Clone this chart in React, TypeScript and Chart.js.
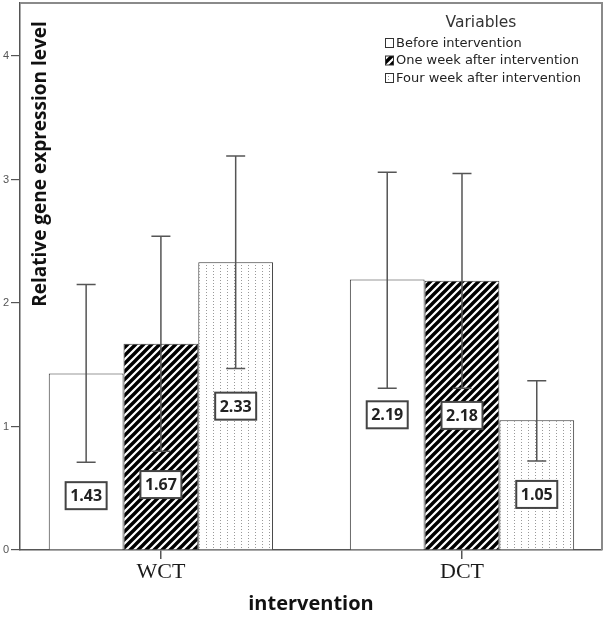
import React, { useEffect, useRef } from "react";
import { Chart, registerables } from "chart.js";

Chart.register(...registerables);

const categories = ["WCT", "DCT"];
const seriesNames = ["Before intervention", "One week after intervention", "Four week after intervention"];
const beforeVals = [1.43, 2.19];
const oneWeekVals = [1.67, 2.18];
const fourWeekVals = [2.33, 1.05];
const beforeLow = [0.71, 1.31];
const beforeHigh = [2.15, 3.06];
const oneWeekLow = [0.8, 1.31];
const oneWeekHigh = [2.54, 3.05];
const fourWeekLow = [1.47, 0.72];
const fourWeekHigh = [3.19, 1.37];
const yTicks = [0, 1, 2, 3, 4];

const seriesVals = [beforeVals, oneWeekVals, fourWeekVals];
const seriesLow = [beforeLow, oneWeekLow, fourWeekLow];
const seriesHigh = [beforeHigh, oneWeekHigh, fourWeekHigh];

function makeHatch(): CanvasPattern | string {
  const c = document.createElement("canvas");
  const s = 8;
  c.width = s;
  c.height = s;
  const g = c.getContext("2d");
  if (!g) return "#000";
  g.fillStyle = "#fff";
  g.fillRect(0, 0, s, s);
  g.strokeStyle = "#000";
  g.lineWidth = 3.4;
  g.beginPath();
  g.moveTo(0, s);
  g.lineTo(s, 0);
  g.moveTo(-2, 2);
  g.lineTo(2, -2);
  g.moveTo(s - 2, s + 2);
  g.lineTo(s + 2, s - 2);
  g.stroke();
  return g.createPattern(c, "repeat") || "#000";
}

function makeDots(): CanvasPattern | string {
  const c = document.createElement("canvas");
  c.width = 7;
  c.height = 3;
  const g = c.getContext("2d");
  if (!g) return "#fff";
  g.fillStyle = "#fff";
  g.fillRect(0, 0, 7, 3);
  g.fillStyle = "#999";
  g.fillRect(3, 1, 1, 1);
  return g.createPattern(c, "repeat") || "#fff";
}

export default function App() {
  const ref = useRef<HTMLCanvasElement | null>(null);

  useEffect(() => {
    if (!ref.current) return;
    const hatch = makeHatch();
    const dots = makeDots();
    const fills = ["#ffffff", hatch, dots];

    const framePlugin = {
      id: "frame",
      beforeDatasetsDraw(chart: any) {
        const { ctx, chartArea } = chart;
        ctx.save();
        ctx.strokeStyle = "#8a8a8a";
        ctx.lineWidth = 2;
        ctx.beginPath();
        ctx.moveTo(chartArea.left, chartArea.top);
        ctx.lineTo(chartArea.right, chartArea.top);
        ctx.lineTo(chartArea.right, chartArea.bottom);
        ctx.stroke();
        ctx.restore();
      },
    };

    const errorPlugin = {
      id: "errs",
      afterDatasetsDraw(chart: any) {
        const { ctx } = chart;
        const ys = chart.scales.y;
        ctx.save();
        ctx.strokeStyle = "#555";
        ctx.lineWidth = 1.5;
        chart.data.datasets.forEach((_d: any, i: number) => {
          const meta = chart.getDatasetMeta(i);
          meta.data.forEach((el: any, j: number) => {
            const x = el.x;
            const top = ys.getPixelForValue(seriesHigh[i][j]);
            const bot = ys.getPixelForValue(seriesLow[i][j]);
            ctx.beginPath();
            ctx.moveTo(x, top);
            ctx.lineTo(x, bot);
            ctx.moveTo(x - 9.5, top);
            ctx.lineTo(x + 9.5, top);
            ctx.moveTo(x - 9.5, bot);
            ctx.lineTo(x + 9.5, bot);
            ctx.stroke();
          });
        });
        ctx.font = "bold 16px 'Open Sans', 'Liberation Sans', sans-serif";
        ctx.textAlign = "center";
        ctx.textBaseline = "middle";
        chart.data.datasets.forEach((_d: any, i: number) => {
          const meta = chart.getDatasetMeta(i);
          meta.data.forEach((el: any, j: number) => {
            const v = seriesVals[i][j];
            const low = seriesLow[i][j];
            let mid = v / 2;
            if (Math.abs(mid - low) < 0.2) mid = low - 0.27;
            const y = ys.getPixelForValue(mid);
            const txt = v.toFixed(2);
            const w = 41;
            const h = 27;
            ctx.fillStyle = "#fff";
            ctx.fillRect(el.x - w / 2, y - h / 2, w, h);
            ctx.strokeStyle = "#444";
            ctx.lineWidth = 2;
            ctx.strokeRect(el.x - w / 2, y - h / 2, w, h);
            ctx.fillStyle = "#222";
            ctx.fillText(txt, el.x, y + 1);
          });
        });
        ctx.restore();
      },
      afterDraw(chart: any) {
        const { ctx, chartArea } = chart;
        ctx.save();
        ctx.translate(chartArea.left + 21, 164);
        ctx.rotate(-Math.PI / 2);
        ctx.font = "bold 19px 'Open Sans', 'Liberation Sans', sans-serif";
        ctx.fillStyle = "#111";
        ctx.textAlign = "center";
        ctx.textBaseline = "middle";
        ctx.fillText("Relative gene expression level", 0, 0);
        ctx.restore();

        ctx.save();
        ctx.fillStyle = "#333";
        ctx.font = "15.5px 'DejaVu Sans', sans-serif";
        ctx.textAlign = "center";
        ctx.textBaseline = "middle";
        ctx.fillText("Variables", 481, 23);
        ctx.font = "13px 'DejaVu Sans', sans-serif";
        ctx.textAlign = "left";
        seriesNames.forEach((name, i) => {
          const cy = 43 + i * 17.5;
          ctx.fillStyle = fills[i] as any;
          ctx.fillRect(385, cy - 4.5, 9, 9);
          ctx.strokeStyle = "#333";
          ctx.lineWidth = 1;
          ctx.strokeRect(385.5, cy - 4.5, 8, 9);
          ctx.fillStyle = "#222";
          ctx.fillText(name, 396, cy + 0.5);
        });
        ctx.restore();
      },
    };

    const chart = new Chart(ref.current, {
      type: "bar",
      data: {
        datasets: seriesNames.map((name, i) => ({
          label: name,
          data: seriesVals[i].map((v, j) => ({ x: j, y: v })),
          backgroundColor: fills[i] as any,
          borderColor: "#333",
          borderWidth: 1,
          borderSkipped: "bottom",
          barPercentage: 1,
          categoryPercentage: 0.745,
        })),
      },
      options: {
        animation: false,
        responsive: false,
        layout: { padding: { top: 3, right: 2, left: 0, bottom: 0 } },
        plugins: { legend: { display: false }, tooltip: { enabled: false } },
        scales: {
          x: {
            type: "linear",
            min: -0.468,
            max: 1.465,
            offset: false,
            afterBuildTicks: (scale: any) => {
              scale.ticks = categories.map((_c, i) => ({ value: i }));
            },
            afterFit: (scale: any) => {
              scale.height = 68;
              scale.paddingLeft = 0;
              scale.paddingRight = 0;
            },
            ticks: {
              callback: (v: any) => categories[v] ?? "",
              font: { family: "'Liberation Serif', 'Times New Roman', serif", size: 22 },
              color: "#1a1a1a",
              padding: 0,
              autoSkip: false,
              maxRotation: 0,
            },
            grid: { offset: false, drawOnChartArea: false, tickLength: 9, color: "#555", lineWidth: 1.5 },
            border: { display: true, color: "#555", width: 1.5 },
            title: {
              display: true,
              text: "intervention",
              font: { family: "'Open Sans', 'Liberation Sans', sans-serif", size: 20, weight: "bold" },
              color: "#111",
              padding: { top: 0, bottom: 2 },
            },
          },
          y: {
            min: 0,
            max: 4.43,
            afterBuildTicks: (scale: any) => {
              scale.ticks = yTicks.map((v) => ({ value: v }));
            },
            afterFit: (scale: any) => {
              scale.width = 20;
              scale.paddingTop = 0;
              scale.paddingBottom = 0;
            },
            ticks: {
              font: { family: "'Liberation Sans', Arial, sans-serif", size: 11 },
              color: "#555",
              padding: 2,
            },
            grid: { drawOnChartArea: false, tickLength: 9, color: "#555", lineWidth: 1.2 },
            border: { display: true, color: "#555", width: 1.5 },
          },
        },
      } as any,
      plugins: [framePlugin, errorPlugin],
    });
    return () => chart.destroy();
  }, []);

  return (
    <div style={{ position: "fixed", left: 0, top: 0, width: 604, height: 618, background: "#fff" }}>
      <canvas ref={ref} width={604} height={618} style={{ display: "block" }} />
    </div>
  );
}
